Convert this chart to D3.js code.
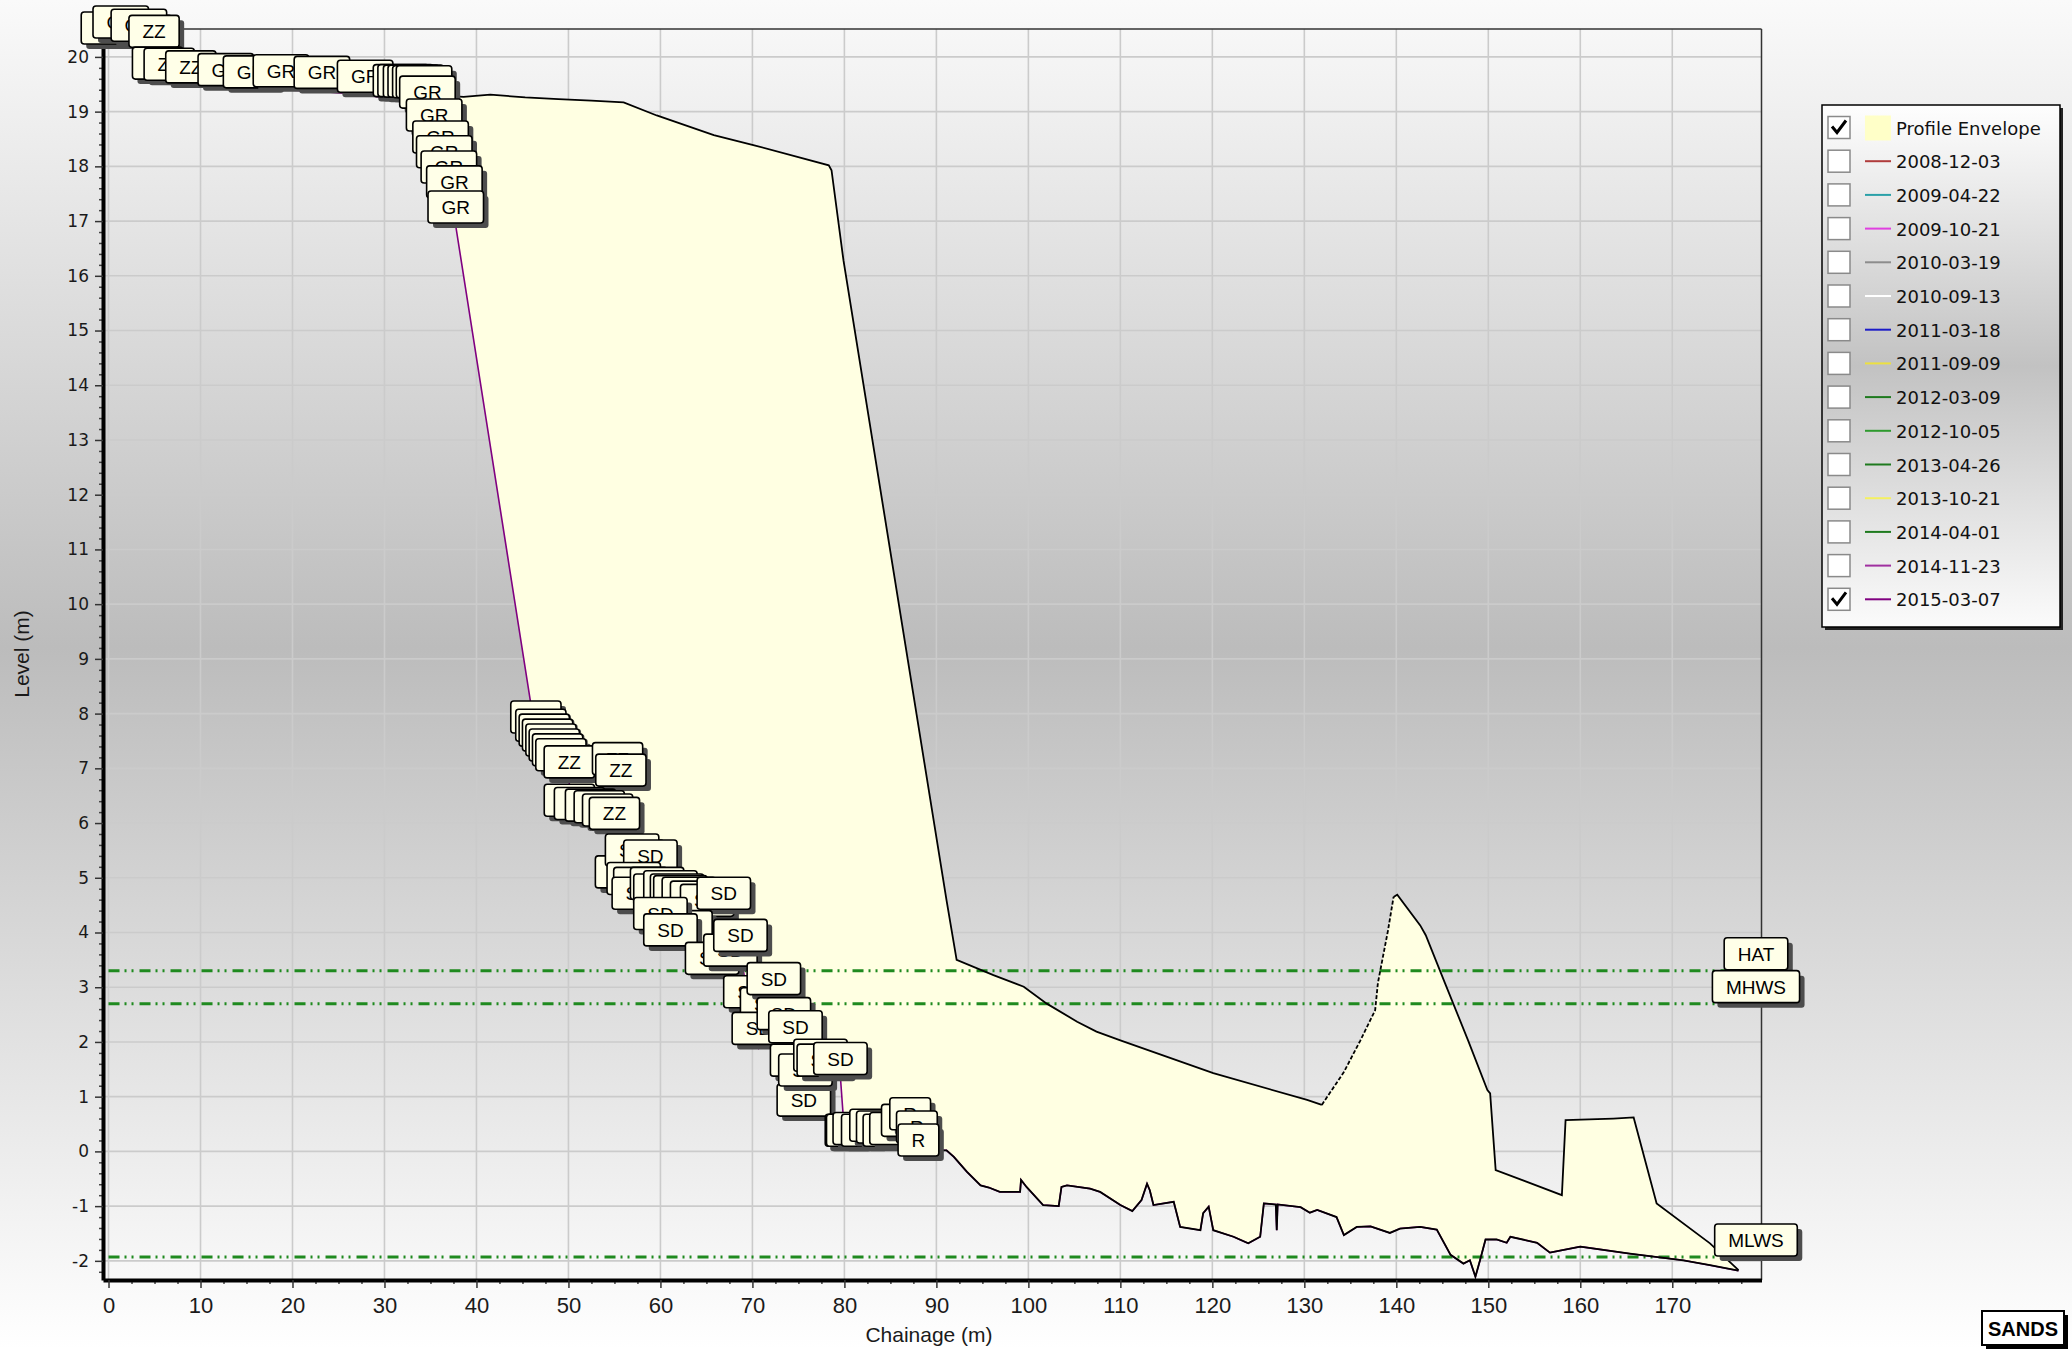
<!DOCTYPE html>
<html>
<head>
<meta charset="utf-8">
<script src="https://cdn.jsdelivr.net/npm/d3@7"></script>
<style>
html, body { margin: 0; padding: 0; background: #fff; }
svg { display: block; font-family: "Liberation Sans", Arial, sans-serif; }
</style>
</head>
<body>
<div id="chart"></div>
<script>
// Profil 2015-03-07 : chainage (m), niveau (m), code du point ("" = pas d'étiquette)
const profileChainage = [
  0.05, 1.33, 3.3, 4.95, 5.33, 6.6, 8.95, 12.75, 15.5, 18.75, 23.2, 27.9,
  31.8, 32.3, 32.9, 33.4, 33.9, 34.3, 34.67, 35.4, 36.1, 36.5, 37.0, 37.6, 37.75,
  46.46, 47.0, 47.37, 47.73, 48.1, 48.46, 48.82, 49.18, 50.09, 55.34, 55.7,
  50.1, 51.2, 52.4, 53.35, 54.26, 55.0,
  55.83, 56.92, 58.91,
  57.1, 57.82, 57.65, 59.64, 60.0, 61.09, 61.81, 62.17, 63.09, 63.99, 65.08, 66.89,
  62.72, 60.0, 61.09, 65.62, 67.61, 68.7,
  69.78, 71.6, 72.33,
  70.7, 73.42, 74.68,
  75.59, 74.86, 75.76, 77.4, 77.76, 79.57,
  80.13, 80.27, 80.98, 81.9, 82.8, 83.53, 84.25, 84.97, 86.25, 87.15, 87.88, 88.05,
  90.4, 91.1, 91.9, 93.3, 94.8, 95.7, 96.9, 99.1, 99.2, 99.8, 101.6, 103.3, 103.6,
  104.2, 106.7, 107.8, 110.0, 111.3, 112.3, 112.9, 113.2, 113.6, 115.8, 116.5,
  118.7, 119.0, 119.6, 120.1, 122.3, 123.9, 125.2, 125.6, 126.9, 127.0, 127.1,
  129.6, 130.6, 131.4, 133.5, 134.3, 135.7, 137.2, 139.3, 140.4, 142.6, 144.4,
  145.9, 147.3, 148.0, 148.6, 149.1, 149.7, 150.9, 152.0, 152.4, 155.3, 156.7,
  160.0, 162.5, 165.4, 171.2, 174.1, 177.2
];
const profileLevel = [
  20.18, 20.29, 20.23, 20.12, 19.54, 19.52, 19.47, 19.42, 19.38, 19.40, 19.37, 19.30,
  19.22, 19.22, 19.21, 19.21, 19.20, 19.20, 19.01, 18.59, 18.19, 17.92, 17.64, 17.37, 16.91,
  7.59, 7.44, 7.35, 7.26, 7.17, 7.08, 6.99, 6.90, 6.77, 6.83, 6.62,
  6.07, 6.01, 5.98, 5.95, 5.89, 5.83,
  4.76, 5.16, 5.05,
  4.64, 4.55, 4.37, 4.55, 4.43, 4.49, 4.43, 4.40, 4.37, 4.30, 4.24, 4.37,
  3.76, 4.00, 3.70, 3.18, 3.33, 3.60,
  2.57, 2.35, 2.81,
  1.90, 2.17, 1.93,
  0.59, 1.32, 1.14, 1.41, 1.32, 1.35,
  0.04, 0.04, 0.07, 0.04, 0.13, 0.10, 0.04, 0.07, 0.22, 0.34, 0.10, -0.14,
  0.02, 0.02, -0.10, -0.37, -0.62, -0.66, -0.74, -0.74, -0.52, -0.65, -0.98, -1.00, -0.65,
  -0.62, -0.68, -0.74, -0.98, -1.09, -0.89, -0.59, -0.71, -0.98, -0.92, -1.38,
  -1.44, -1.13, -1.01, -1.44, -1.56, -1.68, -1.56, -0.95, -0.97, -1.44, -0.97,
  -1.02, -1.12, -1.07, -1.20, -1.53, -1.38, -1.37, -1.49, -1.41, -1.38, -1.43,
  -1.89, -2.05, -1.99, -2.29, -1.99, -1.61, -1.61, -1.67, -1.56, -1.67, -1.85,
  -1.74, -1.80, -1.87, -1.99, -2.08, -2.18
];
const profileCode = [].concat(
  ["GR", "GR", "GR", "ZZ", "ZZ", "ZZ", "ZZ", "GR", "GR", "GR", "GR", "GR"],
  Array(13).fill("GR"),
  Array(17).fill("ZZ"),
  Array(33).fill("SD"),
  Array(12).fill("R"),
  Array(63).fill("")
);

// Enveloppe des profils (bord supérieur)
const envelopeChainage = [
  34.3, 37.75, 38.6, 41.5, 45.3, 48.9, 52.5, 56.0, 59.6, 65.8, 70.1, 78.3, 78.6, 79.9,
  91.1, 92.2, 96.2, 99.5, 102.0, 105.3, 107.4, 110.0, 120.1, 130.3, 131.9, 134.3, 136.1,
  137.7, 138.0, 139.1, 139.7, 140.1, 142.6, 143.2, 145.3, 147.8, 149.9, 150.2, 150.8,
  158.0, 158.4, 163.6, 165.8, 168.3, 174.1, 177.2
];
const envelopeLevel = [
  19.22, 19.28, 19.27, 19.31, 19.26, 19.23, 19.20, 19.17, 18.93, 18.57, 18.39, 18.02, 17.93, 16.28,
  4.59, 3.50, 3.22, 3.01, 2.70, 2.37, 2.19, 2.03, 1.43, 0.94, 0.85, 1.45, 2.03,
  2.58, 3.08, 4.04, 4.65, 4.69, 4.13, 3.95, 3.07, 2.03, 1.12, 1.06, -0.34,
  -0.80, 0.57, 0.60, 0.62, -0.95, -1.68, -2.17
];

// Niveaux de marée
const tideNames = ["HAT", "MHWS", "MLWS"];
const tideLevels = [3.30, 2.70, -1.93];

// Légende
const legendLabels = ["Profile Envelope", "2008-12-03", "2009-04-22", "2009-10-21", "2010-03-19",
  "2010-09-13", "2011-03-18", "2011-09-09", "2012-03-09", "2012-10-05", "2013-04-26",
  "2013-10-21", "2014-04-01", "2014-11-23", "2015-03-07"];
const legendColors = ["#ffffc8", "#b03c3c", "#2aa0a8", "#e040e0", "#8c8c8c", "#ffffff", "#1c1cc8",
  "#ece040", "#1e7a1e", "#2e9a2e", "#1e7a1e", "#f4f060", "#1e7a1e", "#a030a0", "#800080"];
const legendChecked = [true, false, false, false, false, false, false, false, false, false,
  false, false, false, false, true];

const xTicks = d3.range(0, 171, 10);
const yTicks = d3.range(-2, 21, 1);

const W = 2072, H = 1349;
const pL = 103, pR = 1761.5, pT = 29, pB = 1280;
const verdanaLike = "'DejaVu Sans', Verdana, sans-serif";

const svg = d3.select("#chart").append("svg").attr("width", W).attr("height", H);
const defs = svg.append("defs");

function gradient(id, stops) {
  const g = defs.append("linearGradient").attr("id", id)
    .attr("x1", 0).attr("y1", 0).attr("x2", 0).attr("y2", 1);
  stops.forEach(s => g.append("stop").attr("offset", s[0]).attr("stop-color", s[1]));
}
gradient("bg", [[0, "#fafafa"], [0.48, "#bcbcbc"], [1, "#ffffff"]]);
gradient("lg", [[0, "#fefefe"], [0.5, "#c2c2c2"], [1, "#fbfbfb"]]);

svg.append("rect").attr("width", W).attr("height", H).attr("fill", "url(#bg)");

const x = d3.scaleLinear().domain([-0.6, 179.7]).range([pL, pR]);
const y = d3.scaleLinear().domain([-2.35, 20.51]).range([pB, pT]);

// Grille
const grid = svg.append("g").attr("stroke", "#cbcbcb").attr("stroke-width", 1.6);
grid.selectAll(".gv").data(xTicks).join("line").attr("class", "gv")
  .attr("x1", d => x(d)).attr("x2", d => x(d)).attr("y1", pT).attr("y2", pB);
grid.selectAll(".gh").data(yTicks).join("line").attr("class", "gh")
  .attr("x1", pL).attr("x2", pR).attr("y1", d => y(d)).attr("y2", d => y(d));

// Points du profil
const pts = profileChainage.map((c, i) => ({ c: c, l: profileLevel[i], code: profileCode[i] }));
const sorted = pts.slice().sort((a, b) => a.c - b.c);

const line = d3.line().x(d => x(d[0])).y(d => y(d[1]));

// Enveloppe (remplissage)
const upper = envelopeChainage.map((c, i) => [c, envelopeLevel[i]]);
const lower = sorted.filter(p => p.c >= envelopeChainage[0]).map(p => [p.c, p.l]);
svg.append("path")
  .attr("d", line(upper.concat(lower.slice().reverse())) + "Z")
  .attr("fill", "#ffffe2");

// Lignes de marée
svg.append("g").selectAll("line").data(tideLevels).join("line")
  .attr("x1", x(0)).attr("x2", x(178))
  .attr("y1", d => y(d)).attr("y2", d => y(d))
  .attr("stroke", "#1f8a1f").attr("stroke-width", 3)
  .attr("stroke-dasharray", "11,5,2,5,2,6");

// Profil 2015-03-07
svg.append("path").attr("d", line(sorted.map(p => [p.c, p.l])))
  .attr("fill", "none").attr("stroke", "#800080").attr("stroke-width", 1.6);

// Contour de l'enveloppe
const dashFrom = 131.9, dashTo = 139.7;
svg.append("path").attr("d", line(upper.filter(d => d[0] <= dashFrom)))
  .attr("fill", "none").attr("stroke", "#000").attr("stroke-width", 1.8);
svg.append("path").attr("d", line(upper.filter(d => d[0] >= dashFrom && d[0] <= dashTo)))
  .attr("fill", "none").attr("stroke", "#000").attr("stroke-width", 1.8).attr("stroke-dasharray", "4,2");
svg.append("path").attr("d", line(upper.filter(d => d[0] >= dashTo)))
  .attr("fill", "none").attr("stroke", "#000").attr("stroke-width", 1.8);
svg.append("path").attr("d", line(lower.filter(d => d[0] >= 88)))
  .attr("fill", "none").attr("stroke", "#000").attr("stroke-width", 1.8);

// Cadre
svg.append("line").attr("x1", pL).attr("x2", pR).attr("y1", pT).attr("y2", pT)
  .attr("stroke", "#333").attr("stroke-width", 1.5);
svg.append("line").attr("x1", pR).attr("x2", pR).attr("y1", pT).attr("y2", pB)
  .attr("stroke", "#333").attr("stroke-width", 1.5);

// Axes
function styleAxis(g, font, size) {
  g.select(".domain").attr("stroke", "#000").attr("stroke-width", 4);
  g.selectAll(".tick line").attr("stroke", "#333").attr("stroke-width", 1.5);
  g.selectAll(".tick text").attr("fill", "#1a1a1a")
    .style("font-family", font).style("font-size", size + "px");
}
svg.append("g").attr("transform", `translate(0,${pB})`)
  .call(d3.axisBottom(x).tickValues(d3.range(0, 180, 2.5).filter(d => d % 10 !== 0))
    .tickSize(4).tickFormat(""))
  .call(g => g.select(".domain").remove())
  .call(g => g.selectAll(".tick line").attr("stroke", "#444").attr("stroke-width", 1.5));
svg.append("g").attr("transform", `translate(${pL},0)`)
  .call(d3.axisLeft(y).tickValues(d3.range(-2.2, 20.5, 0.2).filter(d => Math.abs(d - Math.round(d)) > 0.01))
    .tickSize(4).tickFormat(""))
  .call(g => g.select(".domain").remove())
  .call(g => g.selectAll(".tick line").attr("stroke", "#444").attr("stroke-width", 1.5));
svg.append("g").attr("transform", `translate(0,${pB})`)
  .call(d3.axisBottom(x).tickValues(xTicks).tickSize(8).tickSizeOuter(0).tickPadding(9)
    .tickFormat(d => String(d)))
  .call(g => styleAxis(g, "'Liberation Sans', Arial, sans-serif", 22));
svg.append("g").attr("transform", `translate(${pL},0)`)
  .call(d3.axisLeft(y).tickValues(yTicks).tickSize(8).tickSizeOuter(0).tickPadding(6)
    .tickFormat(d => String(d)))
  .call(g => styleAxis(g, verdanaLike, 17));

svg.append("text").attr("x", 929).attr("y", 1342).attr("text-anchor", "middle")
  .attr("font-size", 21).attr("fill", "#1a1a1a").text("Chainage (m)");
svg.append("text").attr("transform", "translate(29,654) rotate(-90)").attr("text-anchor", "middle")
  .attr("font-size", 21).attr("fill", "#1a1a1a").text("Level (m)");

// Étiquettes (boîtes avec ombre)
function tag(g, cx, cy, label) {
  const grp = g.append("g");
  const sh = grp.append("rect").attr("fill", "#4d4d4d").attr("rx", 3);
  const box = grp.append("rect").attr("fill", "#ffffe8").attr("stroke", "#000")
    .attr("stroke-width", 1.6).attr("rx", 3);
  const t = grp.append("text").attr("font-size", 19).attr("fill", "#000")
    .attr("text-anchor", "middle").text(label);
  const w = t.node().getComputedTextLength() + 27, h = 32;
  const x0 = cx - w / 2, y0 = cy - 3 - h;
  sh.attr("x", x0 + 5).attr("y", y0 + 5).attr("width", w).attr("height", h);
  box.attr("x", x0).attr("y", y0).attr("width", w).attr("height", h);
  t.attr("x", cx).attr("y", y0 + h / 2 + 7);
}

const tags = svg.append("g");
pts.filter(p => p.code !== "").forEach(p => tag(tags, x(p.c), y(p.l), p.code));
tideNames.forEach((n, i) => tag(tags, x(179.1), y(tideLevels[i]) + 2, n));

// Légende
const lg = svg.append("g").attr("transform", "translate(1822,105)");
lg.append("rect").attr("x", 3).attr("y", 3).attr("width", 238).attr("height", 522).attr("fill", "#222");
lg.append("rect").attr("width", 238).attr("height", 522).attr("fill", "url(#lg)")
  .attr("stroke", "#000").attr("stroke-width", 1.5);
const rows = lg.selectAll(".row").data(legendLabels).join("g").attr("class", "row")
  .attr("transform", (d, i) => `translate(0,${22.5 + i * 33.7})`);
rows.append("rect").attr("x", 6).attr("y", -11).attr("width", 22).attr("height", 22)
  .attr("fill", "#fff").attr("stroke", "#8a8a8a").attr("stroke-width", 1.5);
rows.filter((d, i) => legendChecked[i]).append("path")
  .attr("d", "M10,-1 L15,5 L24,-7").attr("fill", "none").attr("stroke", "#000").attr("stroke-width", 3);
rows.filter((d, i) => i === 0).append("rect").attr("x", 43).attr("y", -12).attr("width", 26).attr("height", 25)
  .attr("fill", legendColors[0]);
rows.filter((d, i) => i > 0).append("line").attr("x1", 43).attr("x2", 69).attr("y1", 0).attr("y2", 0)
  .attr("stroke", d => legendColors[legendLabels.indexOf(d)]).attr("stroke-width", 2);
rows.append("text").attr("x", 74).attr("y", 7).attr("fill", "#111")
  .style("font-family", verdanaLike).style("font-size", "18px").text(d => d);

// Logo
const logo = svg.append("g").attr("transform", "translate(1982,1311)");
logo.append("rect").attr("x", 4).attr("y", 4).attr("width", 82).attr("height", 34).attr("fill", "#000");
logo.append("rect").attr("width", 82).attr("height", 34).attr("fill", "#fff").attr("stroke", "#000").attr("stroke-width", 2);
logo.append("text").attr("x", 41).attr("y", 25).attr("text-anchor", "middle").attr("font-size", 21)
  .attr("font-weight", "bold").attr("textLength", 70).attr("lengthAdjust", "spacingAndGlyphs").text("SANDS");
</script>
</body>
</html>
